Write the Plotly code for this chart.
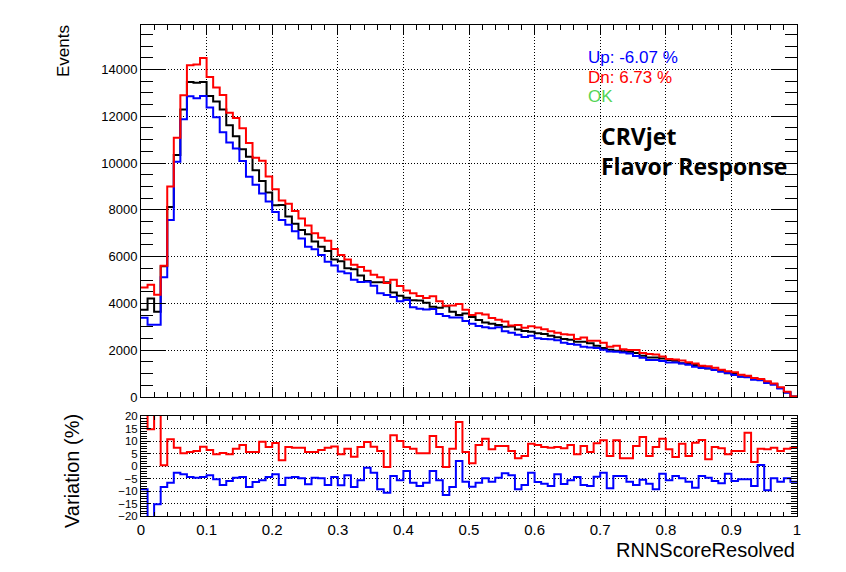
import plotly.graph_objects as go

# ---------------- data ----------------
bin_edges_lo = 0.0
bin_edges_hi = 1.0
n_bins = 100

nominal = [3730, 4210, 3640, 5590, 8120, 10340, 12290, 13460, 13430, 13460,
           12860, 12630, 12290, 11610, 11150, 10590, 10270, 9690, 9230, 8740,
           8200, 8210, 7720, 7410, 7140, 6960, 6650, 6420, 6240, 5880,
           5800, 5500, 5460, 5190, 4960, 4900, 4900, 4900, 4470, 4330,
           4240, 4140, 4120, 4030, 3860, 3820, 3880, 3640, 3500, 3570,
           3420, 3290, 3180, 3130, 3080, 3000, 3010, 2880, 2820, 2790,
           2720, 2690, 2620, 2550, 2480, 2450, 2360, 2360, 2300, 2190,
           2090, 2020, 1980, 1960, 1930, 1880, 1760, 1690, 1690, 1650,
           1580, 1550, 1440, 1410, 1370, 1300, 1220, 1170, 1120, 1020,
           980, 880, 870, 770, 740, 630, 555, 380, 200, 18]

up_hist = [3390, 3090, 3090, 5120, 7570, 10050, 11870, 12850, 12770, 12860,
           12370, 11960, 11320, 10880, 10620, 10090, 9410, 9070, 8700, 8355,
           7910, 7570, 7360, 7080, 6770, 6420, 6310, 6070, 5780, 5620,
           5360, 5290, 5010, 4910, 4930, 4760, 4435, 4365, 4275, 4090,
           4150, 3840, 3770, 3745, 3760, 3550, 3460, 3400, 3400, 3250,
           3130, 3030, 2980, 2940, 2980, 2810, 2750, 2660, 2560, 2620,
           2510, 2476, 2470, 2430, 2320, 2262, 2233, 2148, 2120, 2091,
           2020, 1949, 1934, 1906, 1863, 1750, 1680, 1579, 1579, 1536,
           1479, 1479, 1437, 1380, 1295, 1238, 1224, 1153, 1081, 1024,
           939, 868, 839, 740, 720, 600, 520, 360, 185, 15]

dn_hist = [4680, 4800, 4370, 5610, 9000, 11080, 12900, 14180, 14210, 14490,
           13680, 13230, 12910, 12150, 11920, 11490, 10860, 10230, 10100, 9420,
           8880, 8400, 8260, 7950, 7630, 7330, 7000, 6810, 6680, 6330,
           6070, 5880, 5650, 5560, 5400, 5230, 5120, 4870, 5010, 4740,
           4550, 4430, 4320, 4230, 4310, 4090, 3900, 3910, 3970, 3730,
           3510, 3580, 3530, 3380, 3300, 3230, 3060, 3080, 2960, 3020,
           2970, 2900, 2815, 2750, 2680, 2660, 2476, 2540, 2404, 2400,
           2320, 2150, 2191, 2040, 2010, 2006, 1878, 1835, 1821, 1735,
           1622, 1600, 1560, 1480, 1437, 1337, 1309, 1252, 1167, 1096,
           1053, 953, 910, 811, 768, 668, 580, 413, 228, 20]

var_up = [-9.3, -26.0, -15.3, -8.4, -6.7, -2.7, -3.3, -4.4, -4.7, -4.4,
          -3.7, -5.3, -7.6, -6.0, -4.7, -4.4, -8.4, -6.4, -5.7, -4.4,
          -3.3, -7.6, -4.7, -4.4, -4.9, -7.3, -4.7, -4.9, -7.6, -4.4,
          -7.7, -3.7, -8.4, -5.7, -0.7, -2.7, -9.3, -10.7, -4.0, -5.7,
          -2.0, -6.7, -8.0, -6.7, -2.0, -5.7, -11.6, -8.4, 2.0, -6.3,
          -8.3, -6.7, -4.9, -6.3, -4.7, -2.9, -3.7, -9.3, -7.6, -2.7,
          -6.4, -7.1, -8.0, -3.3, -7.2, -5.7, -4.4, -7.6, -8.0, -4.3,
          -2.7, -8.9, -4.0, -4.0, -6.3, -7.6, -5.5, -7.1, -9.3, -3.1,
          -5.7, -4.0, -4.9, -6.3, -8.7, -4.0, -4.7, -6.0, -6.9, -3.1,
          -6.0, -5.3, -5.3, -8.0, 0.4, -9.7, -4.9, -6.3, -4.9, -6.3]

var_dn = [24.0, 14.7, 20.5, 0.3, 10.7, 7.3, 5.1, 5.6, 6.0, 7.7,
          6.4, 4.7, 5.2, 4.7, 6.9, 8.4, 5.6, 5.6, 9.7, 7.6,
          9.2, 2.3, 7.6, 7.3, 7.3, 5.6, 5.6, 6.4, 7.3, 7.8,
          4.7, 6.9, 3.7, 7.6, 9.6, 7.7, 6.0, -0.4, 12.3, 10.0,
          7.6, 6.9, 5.1, 5.1, 12.0, 7.6, -0.4, 6.9, 17.6, 5.6,
          1.1, 8.4, 10.9, 6.7, 8.0, 8.0, 6.0, 3.1, 4.0, 8.9,
          8.4, 7.6, 7.3, 7.6, 7.1, 8.4, 4.7, 8.0, 5.6, 9.1,
          10.3, 4.0, 10.3, 3.1, 3.1, 8.0, 11.6, 4.0, 7.6, 10.9,
          6.7, 3.6, 8.9, 4.0, 9.3, 10.4, 2.7, 7.6, 7.1, 4.7,
          6.0, 6.0, 13.3, 1.6, 6.9, 6.7, 7.3, 6.0, 6.9, 7.3]

legend_lines = ["Up: -6.07 %", "Dn: 6.73 %", "OK"]
label_lines = ["CRVjet", "Flavor Response"]
x_title = "RNNScoreResolved"
y_title_top = "Events"
y_title_bottom = "Variation (%)"

# ---------------- figure ----------------
OFF = 8  # page body margin
W, H = 846 - OFF, 572 - OFF
edges = [bin_edges_lo + (bin_edges_hi - bin_edges_lo) * i / n_bins for i in range(n_bins + 1)]


def steps(vals):
    return list(vals) + [vals[-1]]


def px_x(p):
    return (p - OFF) / W


def px_y(p):
    return 1 - (p - OFF) / H


FONT = "Liberation Sans, Arial, sans-serif"
fig = go.Figure()

fig.add_trace(go.Scatter(x=edges, y=steps(nominal), mode="lines", line=dict(color="black", width=2, shape="hv"),
                         xaxis="x", yaxis="y", showlegend=False, hoverinfo="skip"))
fig.add_trace(go.Scatter(x=edges, y=steps(up_hist), mode="lines", line=dict(color="#0000ff", width=2, shape="hv"),
                         xaxis="x", yaxis="y", showlegend=False, hoverinfo="skip"))
fig.add_trace(go.Scatter(x=edges, y=steps(dn_hist), mode="lines", line=dict(color="#ff0000", width=2, shape="hv"),
                         xaxis="x", yaxis="y", showlegend=False, hoverinfo="skip"))

fig.add_trace(go.Scatter(x=edges, y=steps(var_dn), mode="lines", line=dict(color="#ff0000", width=2, shape="hv"),
                         xaxis="x2", yaxis="y2", showlegend=False, hoverinfo="skip"))
fig.add_trace(go.Scatter(x=edges, y=steps(var_up), mode="lines", line=dict(color="#0000ff", width=2, shape="hv"),
                         xaxis="x2", yaxis="y2", showlegend=False, hoverinfo="skip"))

xdom = [px_x(141), px_x(797)]
common = dict(showline=True, linecolor="black", linewidth=1, mirror="ticks", ticks="inside",
              tickcolor="black", tickwidth=1, showgrid=True, gridcolor="black", gridwidth=1,
              griddash="1px,2px", zeroline=False, automargin=False,
              tickfont=dict(family=FONT, size=13, color="black"))

fig.update_layout(
    width=W, height=H,
    margin=dict(l=0, r=0, t=0, b=0, pad=0, autoexpand=False),
    paper_bgcolor="white", plot_bgcolor="white",
    xaxis=dict(domain=xdom, range=[0, 1], anchor="y", showticklabels=False, dtick=0.1, tick0=0,
               ticklen=10, minor=dict(dtick=0.02, ticklen=5, ticks="inside", tickcolor="black", showgrid=False),
               **common),
    yaxis=dict(domain=[px_y(397), px_y(25)], range=[0, 15900], anchor="x", dtick=2000, tick0=0,
               tickformat="d", ticklen=25,
               minor=dict(dtick=500, ticklen=12, ticks="inside", tickcolor="black", showgrid=False),
               **common),
    xaxis2=dict(domain=xdom, range=[0, 1], anchor="y2", dtick=0.1, tick0=0, ticklen=8,
                minor=dict(dtick=0.02, ticklen=4, ticks="inside", tickcolor="black", showgrid=False),
                **{**common, "tickfont": dict(family=FONT, size=15, color="black")}),
    yaxis2=dict(domain=[px_y(516), px_y(416)], range=[-20, 20], anchor="x2", dtick=5, tick0=0, ticklen=10,
                minor=dict(dtick=1, ticklen=6, ticks="inside", tickcolor="black", showgrid=False),
                **{**common, "tickfont": dict(family=FONT, size=11.5, color="black")}),
)

ann = []
ann.append(dict(text=y_title_top, x=px_x(63), y=px_y(51), xref="paper", yref="paper", showarrow=False,
                textangle=-90, xanchor="center", yanchor="middle", font=dict(family=FONT, size=17, color="black")))
ann.append(dict(text=y_title_bottom, x=px_x(72), y=px_y(471), xref="paper", yref="paper", showarrow=False,
                textangle=-90, xanchor="center", yanchor="middle", font=dict(family=FONT, size=20, color="black")))
ann.append(dict(text=x_title, x=px_x(797), y=px_y(550), xref="paper", yref="paper", showarrow=False,
                xanchor="right", yanchor="middle", font=dict(family=FONT, size=20, color="black")))
leg_colors = ["#0000ff", "#ff0000", "#55d455"]
leg_y = [58, 77, 97]
for t, c, yy in zip(legend_lines, leg_colors, leg_y):
    ann.append(dict(text=t, x=px_x(586), y=px_y(yy), xref="paper", yref="paper", showarrow=False,
                    xanchor="left", yanchor="middle", font=dict(family=FONT, size=17, color=c)))
for t, yy in zip(label_lines, [136, 166]):
    ann.append(dict(text="<b>" + t + "</b>", x=px_x(599), y=px_y(yy), xref="paper", yref="paper", showarrow=False,
                    xanchor="left", yanchor="middle",
                    font=dict(family="Open Sans, DejaVu Sans, sans-serif", size=23, color="black")))
fig.update_layout(annotations=ann)

fig.write_html("out.html")
